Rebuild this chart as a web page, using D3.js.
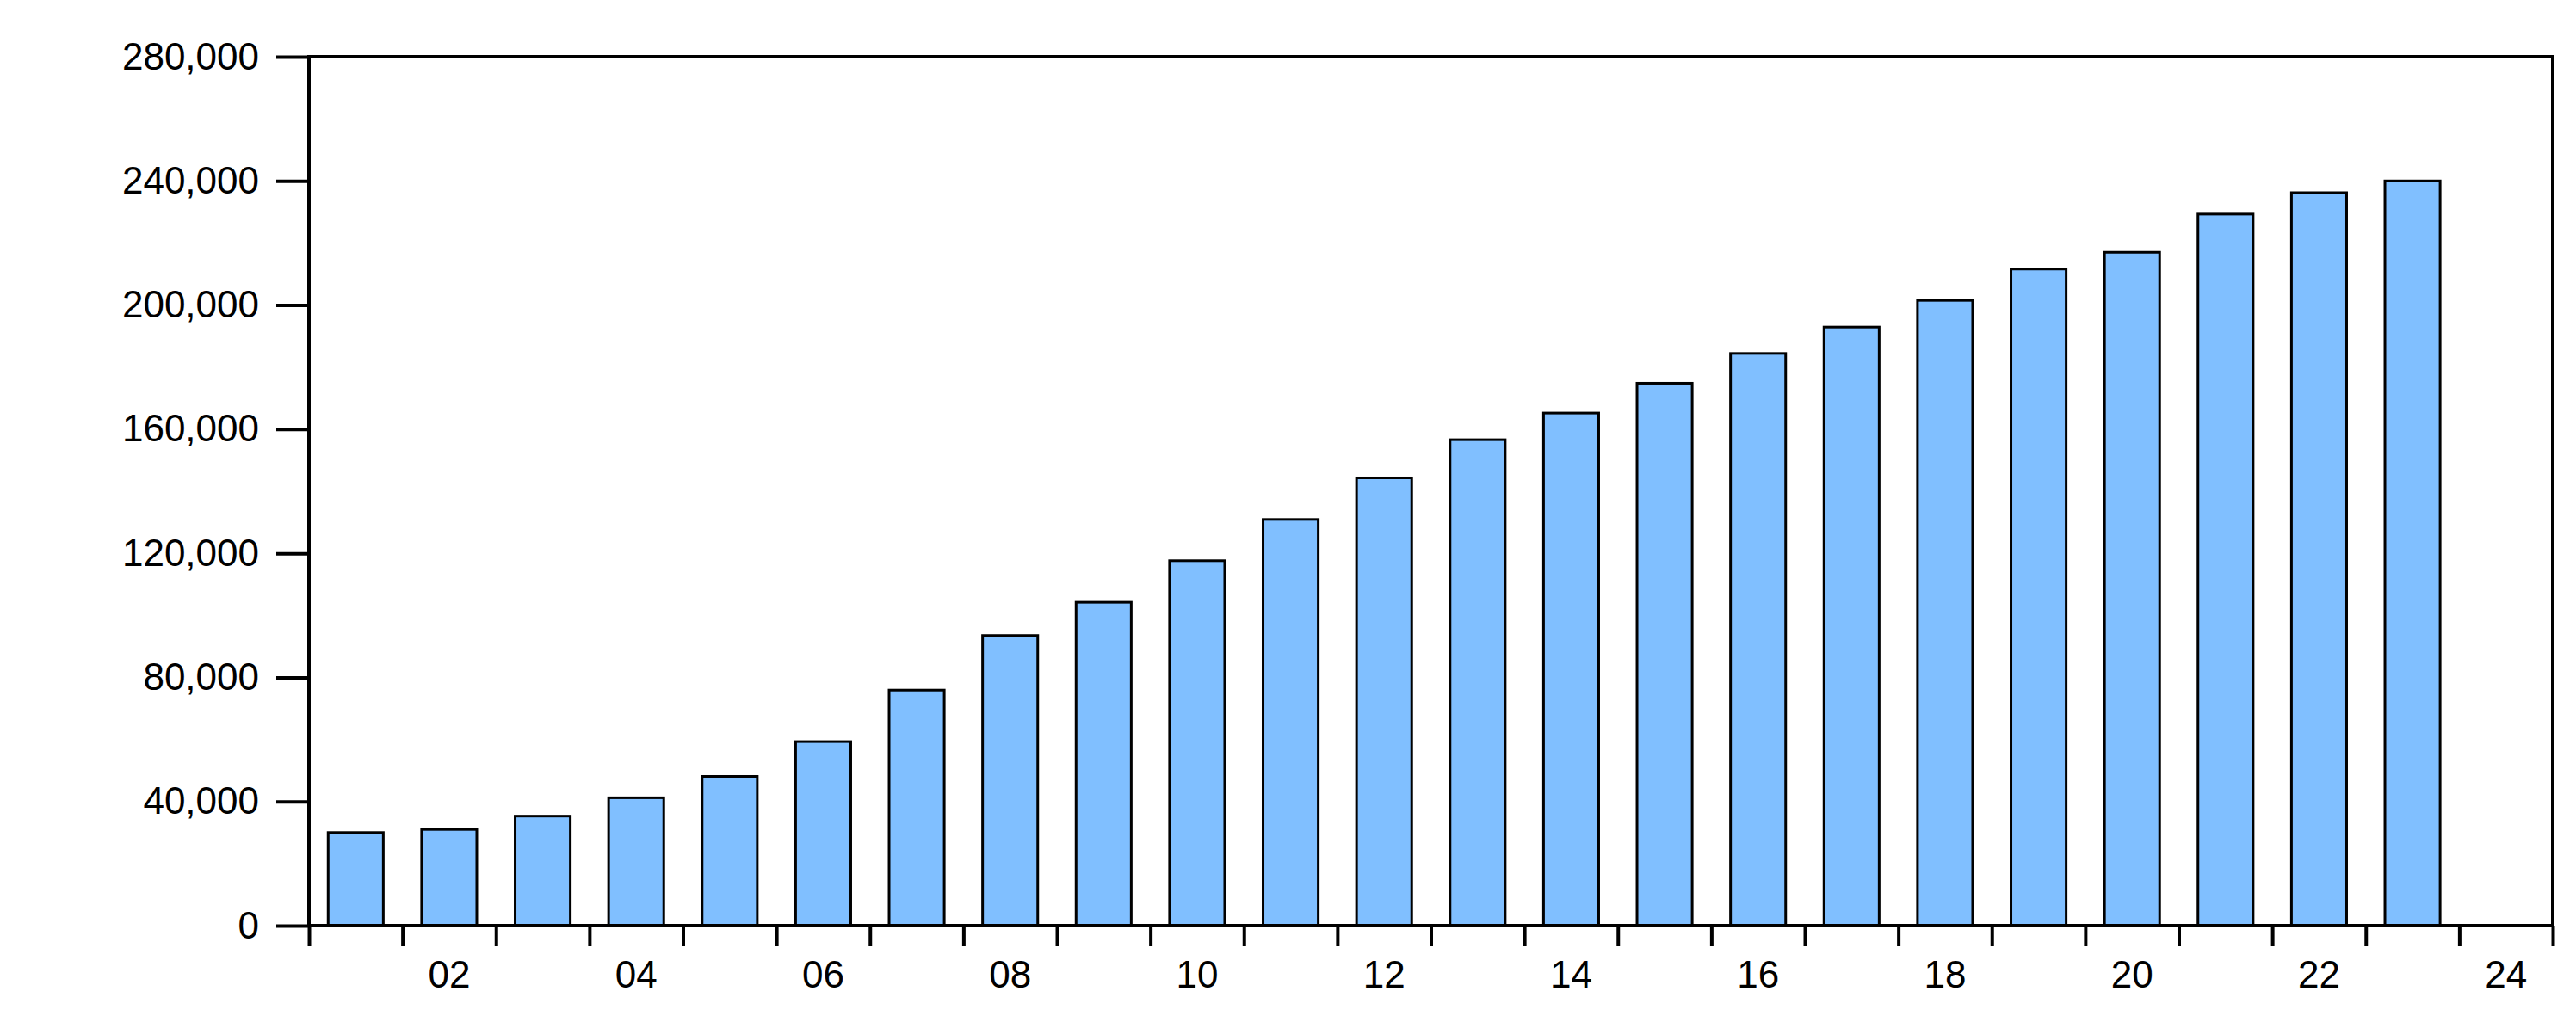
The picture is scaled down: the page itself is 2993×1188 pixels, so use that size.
<!DOCTYPE html>
<html><head><meta charset="utf-8">
<script src="https://cdn.jsdelivr.net/npm/d3@7"></script>
<style>body{margin:0;background:#fff}svg{display:block}</style>
</head><body><svg id="c" width="2993" height="1188"></svg>
<script>
const years = [2001,2002,2003,2004,2005,2006,2007,2008,2009,2010,2011,2012,2013,2014,2015,2016,2017,2018,2019,2020,2021,2022,2023];
const values = [30000,31000,35300,41200,48100,59300,75900,93500,104200,117600,130900,144300,156600,165200,174800,184400,192900,201500,211600,217000,229300,236200,240000];
const yTicks = [0,40000,80000,120000,160000,200000,240000,280000];
const xLabelYears = [2002,2004,2006,2008,2010,2012,2014,2016,2018,2020,2022,2024];

const svg = d3.select("#c");
const L=359, R=2966, T=66, B=1076;
const x = d3.scaleLinear().domain([2001,2025]).range([L,R]);
const y = d3.scaleLinear().domain([0,280000]).range([B,T]);
const font = "'Liberation Sans', Arial, sans-serif";

// bars
const bw = (x(2002)-x(2001))*0.59;
svg.append("g").selectAll("rect").data(years).join("rect")
  .attr("x", d => x(d+0.5)-bw/2)
  .attr("y", (d,i) => y(values[i]))
  .attr("width", bw)
  .attr("height", (d,i) => y(0)-y(values[i]))
  .attr("fill", "#80BFFF").attr("stroke", "#000").attr("stroke-width", 3);

// frame
svg.append("rect").attr("x",L).attr("y",T).attr("width",R-L).attr("height",B-T)
  .attr("fill","none").attr("stroke","#000").attr("stroke-width",4);

// y axis
const ya = svg.append("g").attr("transform",`translate(${L},0)`)
  .call(d3.axisLeft(y).tickValues(yTicks).tickSize(38).tickPadding(20).tickFormat(d3.format(",")));
ya.select(".domain").remove();
ya.selectAll("line").attr("stroke","#000").attr("stroke-width",4);
ya.selectAll("text").attr("font-family",font).attr("font-size",44).attr("fill","#000");

// x axis: ticks at year boundaries
const xa = svg.append("g").attr("transform",`translate(0,${B})`)
  .call(d3.axisBottom(x).tickValues(d3.range(2001,2026)).tickSize(24).tickFormat(""));
xa.select(".domain").remove();
xa.selectAll("line").attr("stroke","#000").attr("stroke-width",4);

svg.append("g").selectAll("text").data(xLabelYears).join("text")
  .attr("x", d => x(d+0.5)).attr("y", B+72)
  .attr("text-anchor","middle").attr("font-family",font).attr("font-size",44)
  .text(d => String(d%100).padStart(2,"0"));
</script></body></html>
